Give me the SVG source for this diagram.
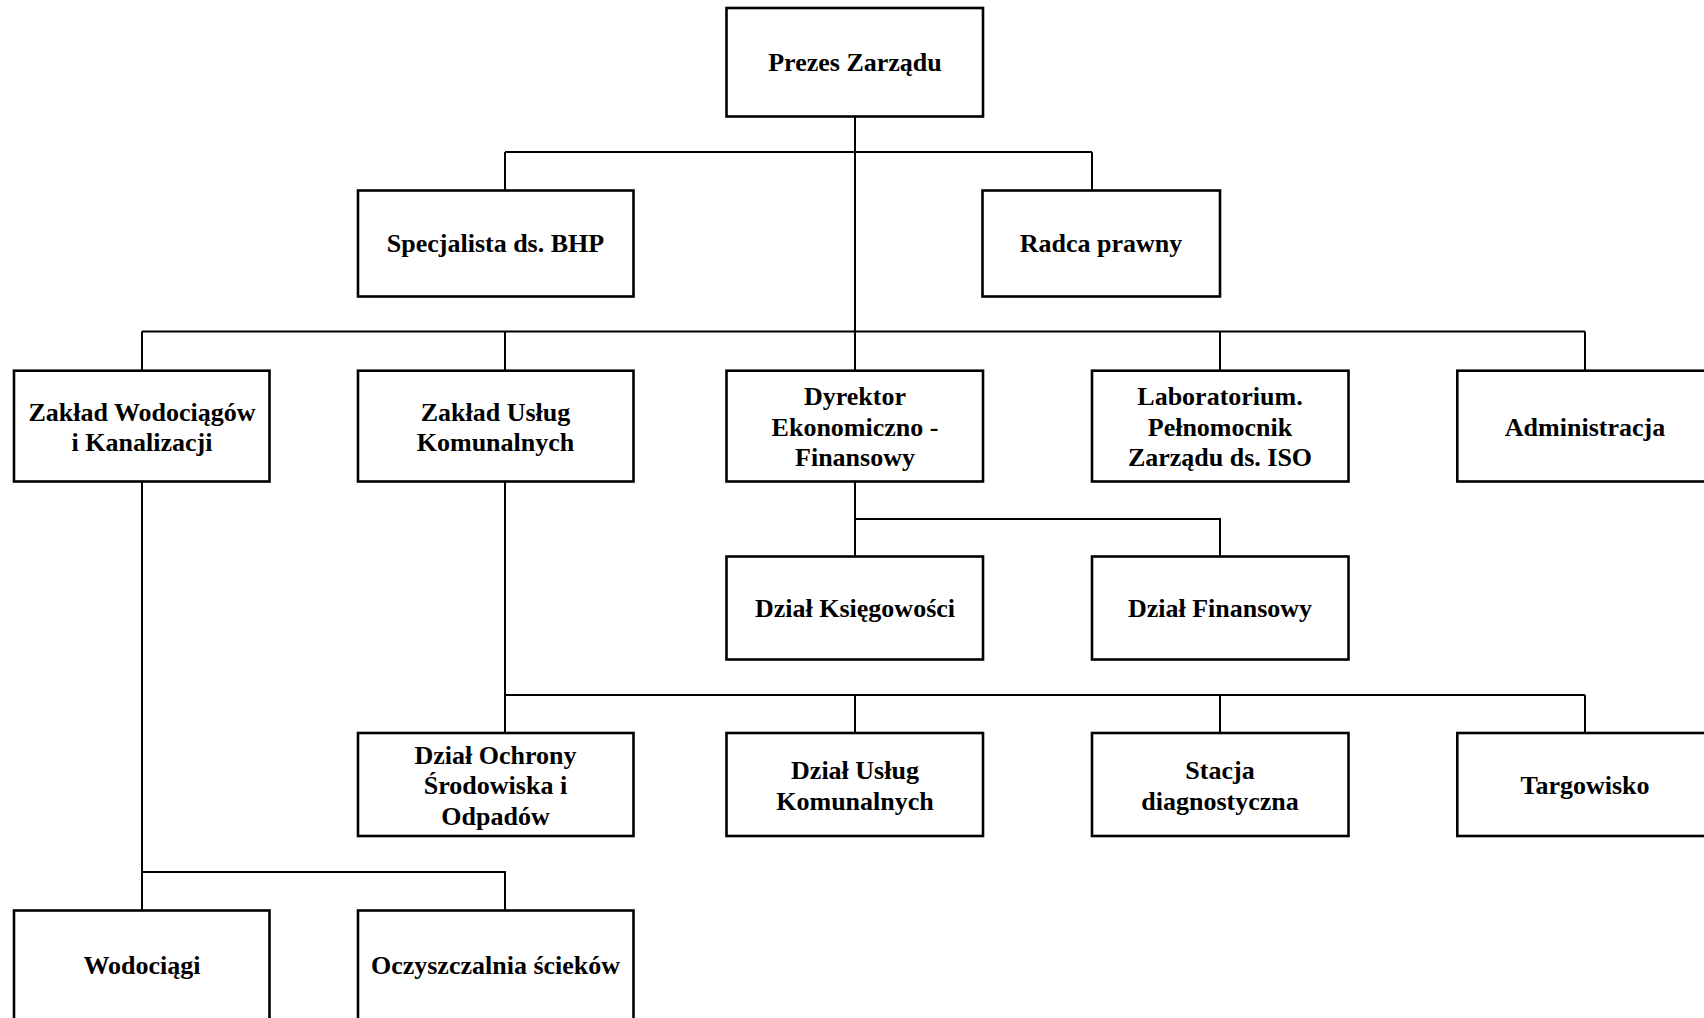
<svg xmlns="http://www.w3.org/2000/svg" width="1704" height="1018" viewBox="0 0 1704 1018">
<style>
.box{fill:#fff;stroke:#000;stroke-width:2.6}
.t{font-family:"Liberation Serif","Times New Roman",serif;font-weight:bold;font-size:26px;fill:#000;text-anchor:middle}
.c{fill:none;stroke:#000;stroke-width:2}
</style>
<rect width="1704" height="1018" fill="#fff"/>
<g id="connectors">
<path class="c" d="M855 116V331.5M505 152H1092M505 152V190M1092 152V190"/>
<path class="c" d="M142 331.5H1585M142 331.5V370M505 331.5V370M855 331.5V370M1220 331.5V370M1585 331.5V370"/>
<path class="c" d="M855 482V519H1220V556M855 519V556"/>
<path class="c" d="M505 482V733M505 695H1585M855 695V733M1220 695V733M1585 695V733"/>
<path class="c" d="M142 482V910M142 872H505V910"/>
</g>
<g id="prezes"><rect class="box" x="726.5" y="8" width="256.5" height="108.5"/><text class="t" x="855" y="70.5">Prezes Zarządu</text></g>
<g id="bhp"><rect class="box" x="358" y="190.5" width="275.5" height="106"/><text class="t" x="495.5" y="252">Specjalista ds. BHP</text></g>
<g id="radca"><rect class="box" x="982.5" y="190.5" width="237.5" height="106"/><text class="t" x="1101" y="252">Radca prawny</text></g>
<g id="zwik"><rect class="box" x="14" y="370.7" width="255.5" height="110.8"/><text class="t" x="142" y="420.5">Zakład Wodociągów</text><text class="t" x="142" y="451">i Kanalizacji</text></g>
<g id="zuk"><rect class="box" x="358" y="370.7" width="275.5" height="110.8"/><text class="t" x="495.5" y="420.5">Zakład Usług</text><text class="t" x="495.5" y="451">Komunalnych</text></g>
<g id="dyrektor"><rect class="box" x="726.5" y="370.7" width="256.5" height="110.8"/><text class="t" x="855" y="405">Dyrektor</text><text class="t" x="855" y="435.5">Ekonomiczno -</text><text class="t" x="855" y="466">Finansowy</text></g>
<g id="lab"><rect class="box" x="1092" y="370.7" width="256.5" height="110.8"/><text class="t" x="1220" y="405">Laboratorium.</text><text class="t" x="1220" y="435.5">Pełnomocnik</text><text class="t" x="1220" y="466">Zarządu ds. ISO</text></g>
<g id="admin"><rect class="box" x="1457.3" y="370.7" width="255.5" height="110.8"/><text class="t" x="1585" y="435.5">Administracja</text></g>
<g id="ksieg"><rect class="box" x="726.5" y="556.5" width="256.5" height="103"/><text class="t" x="855" y="617">Dział Księgowości</text></g>
<g id="fin"><rect class="box" x="1092" y="556.5" width="256.5" height="103"/><text class="t" x="1220" y="617">Dział Finansowy</text></g>
<g id="ochrona"><rect class="box" x="358" y="733" width="275.5" height="103"/><text class="t" x="495.5" y="763.5">Dział Ochrony</text><text class="t" x="495.5" y="794">Środowiska i</text><text class="t" x="495.5" y="824.5">Odpadów</text></g>
<g id="duk"><rect class="box" x="726.5" y="733" width="256.5" height="103"/><text class="t" x="855" y="779">Dział Usług</text><text class="t" x="855" y="809.5">Komunalnych</text></g>
<g id="stacja"><rect class="box" x="1092" y="733" width="256.5" height="103"/><text class="t" x="1220" y="779">Stacja</text><text class="t" x="1220" y="809.5">diagnostyczna</text></g>
<g id="targ"><rect class="box" x="1457.3" y="733" width="255.5" height="103"/><text class="t" x="1585" y="794">Targowisko</text></g>
<g id="wodociagi"><rect class="box" x="14" y="910.5" width="255.5" height="112"/><text class="t" x="142" y="973.5">Wodociągi</text></g>
<g id="oczyszczalnia"><rect class="box" x="358" y="910.5" width="275.5" height="112"/><text class="t" x="495.5" y="973.5">Oczyszczalnia ścieków</text></g>
</svg>
